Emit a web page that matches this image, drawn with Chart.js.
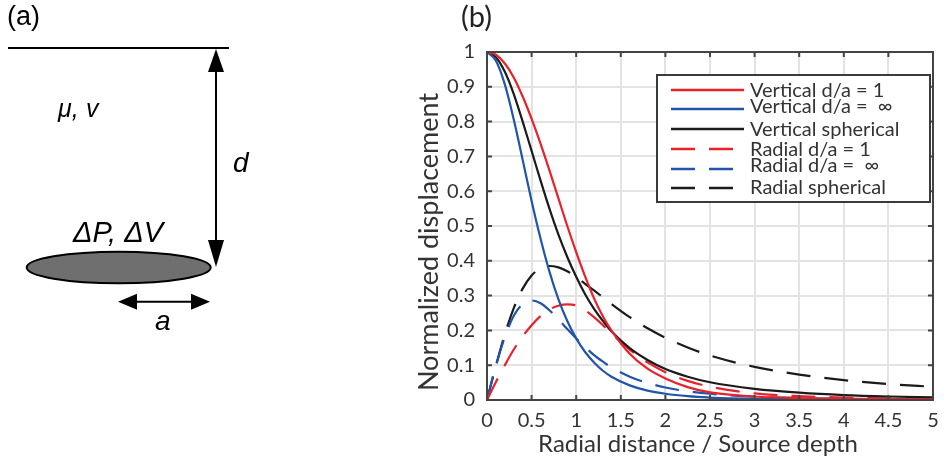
<!DOCTYPE html>
<html>
<head>
<meta charset="utf-8">
<script src="https://cdn.jsdelivr.net/npm/chart.js@4.4.1/dist/chart.umd.min.js"></script>
<style>
  html, body { margin: 0; padding: 0; background: #fff; }
  #contenedor { width: 950px; height: 461px; }
</style>
</head>
<body>
<div id="contenedor"><canvas id="myChart" width="950" height="461"></canvas></div>
<script>

// distancia radial / profundidad de la fuente
const distancias = [0, 0.1, 0.2, 0.3, 0.4, 0.5, 0.6, 0.7, 0.8, 0.9, 1.0, 1.1, 1.2, 1.3, 1.4, 1.6, 1.8, 2.0, 2.25, 2.5, 3.0, 3.5, 4.0, 4.5, 5.0];

const verticalUno      = [1, 0.992, 0.967, 0.927, 0.872, 0.808, 0.737, 0.66, 0.58, 0.5, 0.425, 0.355, 0.292, 0.24, 0.198, 0.133, 0.09, 0.062, 0.037, 0.022, 0.01, 0.0055, 0.0035, 0.0025, 0.002];
const verticalInf      = [1, 0.975, 0.907, 0.806, 0.69, 0.572, 0.464, 0.369, 0.29, 0.227, 0.177, 0.138, 0.108, 0.084, 0.066, 0.042, 0.027, 0.018, 0.011, 0.007, 0.003, 0.0016, 0.0008, 0.0005, 0.0003];
const verticalEsferica = [1, 0.985, 0.943, 0.879, 0.8, 0.716, 0.631, 0.55, 0.476, 0.411, 0.354, 0.304, 0.262, 0.227, 0.196, 0.149, 0.115, 0.089, 0.067, 0.051, 0.032, 0.021, 0.014, 0.01, 0.0075];
const radialUno        = [0, 0.052, 0.1, 0.145, 0.183, 0.215, 0.241, 0.26, 0.271, 0.275, 0.272, 0.258, 0.238, 0.215, 0.19, 0.145, 0.108, 0.08, 0.055, 0.038, 0.019, 0.011, 0.007, 0.005, 0.004];
const radialInf        = [0, 0.098, 0.181, 0.242, 0.276, 0.286, 0.278, 0.258, 0.232, 0.204, 0.177, 0.152, 0.129, 0.11, 0.093, 0.067, 0.049, 0.036, 0.025, 0.018, 0.0095, 0.0055, 0.0034, 0.0022, 0.0015];
const radialEsferica   = [0, 0.0985, 0.189, 0.264, 0.32, 0.358, 0.378, 0.385, 0.381, 0.37, 0.354, 0.334, 0.315, 0.295, 0.275, 0.238, 0.206, 0.179, 0.151, 0.128, 0.095, 0.073, 0.057, 0.046, 0.038];

const nombresSeries = ['Vertical d/a = 1', 'Vertical d/a =  \u221E', 'Vertical spherical', 'Radial d/a = 1', 'Radial d/a =  \u221E', 'Radial spherical'];

const etiquetasX = ['0', '0.5', '1', '1.5', '2', '2.5', '3', '3.5', '4', '4.5', '5'];
const etiquetasY = ['0', '0.1', '0.2', '0.3', '0.4', '0.5', '0.6', '0.7', '0.8', '0.9', '1'];

const ROJO = '#e8212b';
const AZUL = '#2255a8';
const NEGRO = '#1b1b1b';
const TEXTO = '#333333';
const FUENTE = 'Lato, "Open Sans", sans-serif';
const FUENTE_A = '"Liberation Sans", Arial, sans-serif';

function f_puntos(valores){
    return distancias.map((x, i) => ({x: x, y: valores[i]}));
}

function f_serie(nombre, valores, color, discontinua){
    return {
        label: nombre,
        data: f_puntos(valores),
        borderColor: color,
        backgroundColor: color,
        borderWidth: 2.2,
        borderDash: discontinua ? [24, 14] : [],
        pointRadius: 0,
        cubicInterpolationMode: 'monotone',
        fill: false
    };
}

// marco, marcas interiores, leyenda y titulos de los ejes
const marcoGrafico = {
    id: 'marcoGrafico',
    afterDatasetsDraw(chart){
        const ctx = chart.ctx;
        const a = chart.chartArea;
        const sx = chart.scales.x;
        const sy = chart.scales.y;

        ctx.save();
        ctx.strokeStyle = '#444';
        ctx.lineWidth = 2;
        ctx.setLineDash([]);
        ctx.strokeRect(a.left, a.top, a.right - a.left, a.bottom - a.top);

        ctx.lineWidth = 2;
        sx.ticks.forEach(t => {
            let px = sx.getPixelForValue(t.value);
            ctx.beginPath();
            ctx.moveTo(px, a.bottom); ctx.lineTo(px, a.bottom - 5);
            ctx.moveTo(px, a.top); ctx.lineTo(px, a.top + 5);
            ctx.stroke();
        });
        sy.ticks.forEach(t => {
            let py = sy.getPixelForValue(t.value);
            ctx.beginPath();
            ctx.moveTo(a.left, py); ctx.lineTo(a.left + 5, py);
            ctx.moveTo(a.right, py); ctx.lineTo(a.right - 5, py);
            ctx.stroke();
        });

        // leyenda
        const caja = {left: 657, top: 75, right: 930, bottom: 202};
        const lineaY = [90, 109, 129, 149, 169, 188];
        const textoY = [91, 107, 130, 150, 166, 188];
        ctx.fillStyle = '#fff';
        ctx.fillRect(caja.left, caja.top, caja.right - caja.left, caja.bottom - caja.top);
        ctx.strokeStyle = '#3a3a3a';
        ctx.lineWidth = 2;
        ctx.strokeRect(caja.left, caja.top, caja.right - caja.left, caja.bottom - caja.top);

        chart.data.datasets.forEach((ds, i) => {
            ctx.strokeStyle = ds.borderColor;
            ctx.lineWidth = 2.6;
            ctx.setLineDash(ds.borderDash);
            ctx.beginPath();
            ctx.moveTo(671, lineaY[i]);
            ctx.lineTo(ds.borderDash.length ? 733 : 744, lineaY[i]);
            ctx.stroke();
            ctx.setLineDash([]);
            ctx.fillStyle = TEXTO;
            ctx.font = '20px ' + FUENTE;
            ctx.textAlign = 'left';
            ctx.textBaseline = 'middle';
            ctx.fillText(ds.label, 750, textoY[i]);
        });

        // titulos de los ejes
        ctx.fillStyle = TEXTO;
        ctx.textAlign = 'center';
        ctx.textBaseline = 'middle';
        ctx.font = '24px ' + FUENTE;
        ctx.fillText('Radial distance / Source depth', 698, 444);
        ctx.translate(429, 242);
        ctx.rotate(-Math.PI / 2);
        ctx.font = '27px ' + FUENTE;
        ctx.fillText('Normalized displacement', 0, 0);
        ctx.restore();

        ctx.save();
        ctx.fillStyle = '#222';
        ctx.font = '29px ' + FUENTE;
        ctx.textAlign = 'left';
        ctx.textBaseline = 'alphabetic';
        ctx.fillText('(b)', 461, 27);
        ctx.restore();
    }
};

// esquema de la fuente: panel (a)
function f_flecha(ctx, x0, y0, x1, y1, largo, ancho){
    let ang = Math.atan2(y1 - y0, x1 - x0);
    ctx.beginPath();
    ctx.moveTo(x1, y1);
    ctx.lineTo(x1 - largo * Math.cos(ang) + ancho * Math.sin(ang), y1 - largo * Math.sin(ang) - ancho * Math.cos(ang));
    ctx.lineTo(x1 - largo * Math.cos(ang) - ancho * Math.sin(ang), y1 - largo * Math.sin(ang) + ancho * Math.cos(ang));
    ctx.closePath();
    ctx.fill();
}

const esquemaFuente = {
    id: 'esquemaFuente',
    afterDraw(chart){
        const ctx = chart.ctx;
        ctx.save();
        ctx.strokeStyle = '#000';
        ctx.fillStyle = '#000';
        ctx.lineWidth = 2;
        ctx.setLineDash([]);

        ctx.font = '27px ' + FUENTE_A;
        ctx.textBaseline = 'alphabetic';
        ctx.fillText('(a)', 7, 25);

        // superficie
        ctx.beginPath();
        ctx.moveTo(8, 48); ctx.lineTo(229, 48);
        ctx.stroke();

        // profundidad d
        ctx.beginPath();
        ctx.moveTo(216, 68); ctx.lineTo(216, 248);
        ctx.stroke();
        f_flecha(ctx, 216, 150, 216, 49, 23, 8);
        f_flecha(ctx, 216, 150, 216, 267, 27, 8);

        // fuente
        ctx.beginPath();
        ctx.ellipse(118.7, 267.5, 92, 15.8, 0, 0, Math.PI * 2);
        ctx.fillStyle = '#6f6f6f';
        ctx.fill();
        ctx.stroke();

        // radio a
        ctx.fillStyle = '#000';
        ctx.beginPath();
        ctx.moveTo(132, 301.7); ctx.lineTo(196, 301.7);
        ctx.stroke();
        f_flecha(ctx, 164, 301.7, 118, 301.7, 19, 8);
        f_flecha(ctx, 164, 301.7, 210, 301.7, 19, 8);

        ctx.font = 'italic 28px ' + FUENTE_A;
        ctx.fillText('d', 233, 172);
        ctx.fillText('a', 155, 330);
        ctx.font = 'italic 25px ' + FUENTE_A;
        ctx.fillText('\u03BC,', 58, 117);
        ctx.fillText('v', 86, 117);
        ctx.font = 'italic 29px ' + FUENTE_A;
        ctx.fillText('\u0394P, \u0394V', 73, 242);
        ctx.restore();
    }
};

let grafico;

function f_crearGrafico(){
    const datasets = [
        f_serie(nombresSeries[0], verticalUno, ROJO, false),
        f_serie(nombresSeries[1], verticalInf, AZUL, false),
        f_serie(nombresSeries[2], verticalEsferica, NEGRO, false),
        f_serie(nombresSeries[3], radialUno, ROJO, true),
        f_serie(nombresSeries[4], radialInf, AZUL, true),
        f_serie(nombresSeries[5], radialEsferica, NEGRO, true)
    ];

    const config = {
        type: 'line',
        data: {datasets: datasets},
        options: {
            responsive: false,
            animation: false,
            devicePixelRatio: 1,
            layout: {padding: {left: 412, right: 17, top: 52, bottom: 0}},
            plugins: {
                legend: {display: false},
                tooltip: {enabled: false}
            },
            scales: {
                x: {
                    type: 'linear',
                    min: 0,
                    max: 5,
                    afterFit: s => { s.height = 61; },
                    border: {display: false},
                    grid: {color: '#e3e3e3', lineWidth: 2, drawTicks: false},
                    ticks: {
                        stepSize: 0.5,
                        padding: 9,
                        color: TEXTO,
                        font: {family: FUENTE, size: 20},
                        callback: (v, i) => etiquetasX[i]
                    }
                },
                y: {
                    type: 'linear',
                    min: 0,
                    max: 1,
                    afterFit: s => { s.width = 75; },
                    border: {display: false},
                    grid: {color: '#e3e3e3', lineWidth: 2, drawTicks: false},
                    ticks: {
                        stepSize: 0.1,
                        padding: 12,
                        color: TEXTO,
                        font: {family: FUENTE, size: 20},
                        callback: (v, i) => etiquetasY[i]
                    }
                }
            }
        },
        plugins: [marcoGrafico, esquemaFuente]
    };

    grafico = new Chart(document.getElementById('myChart'), config);
}

f_crearGrafico();
</script>
</body>
</html>
